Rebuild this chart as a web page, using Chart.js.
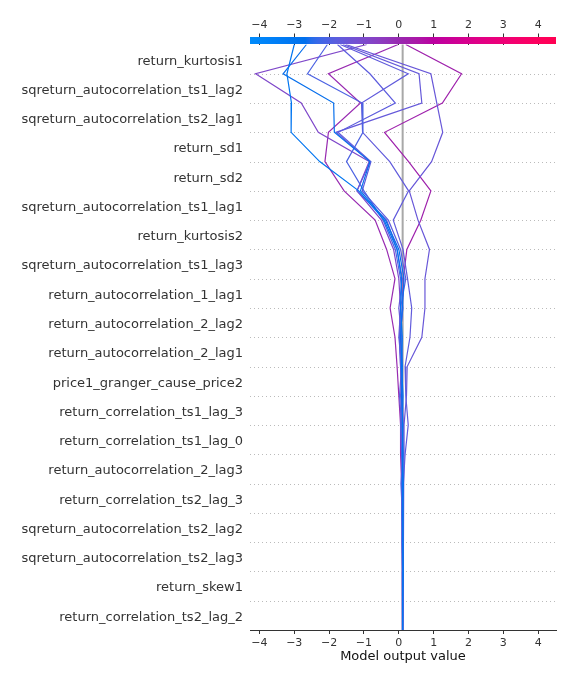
<!DOCTYPE html>
<html>
<head>
<meta charset="utf-8">
<script src="https://cdn.jsdelivr.net/npm/chart.js@4.4.1/dist/chart.umd.min.js"></script>
<style>
html,body{margin:0;padding:0;background:#fff;}
#wrap{width:576px;height:684px;position:relative;}
</style>
</head>
<body>
<div id="wrap"><canvas id="c" width="576" height="684"></canvas></div>
<script>
// Feature names, top to bottom
const features = [
  "return_kurtosis1",
  "sqreturn_autocorrelation_ts1_lag2",
  "sqreturn_autocorrelation_ts2_lag1",
  "return_sd1",
  "return_sd2",
  "sqreturn_autocorrelation_ts1_lag1",
  "return_kurtosis2",
  "sqreturn_autocorrelation_ts1_lag3",
  "return_autocorrelation_1_lag1",
  "return_autocorrelation_2_lag2",
  "return_autocorrelation_2_lag1",
  "price1_granger_cause_price2",
  "return_correlation_ts1_lag_3",
  "return_correlation_ts1_lag_0",
  "return_autocorrelation_2_lag3",
  "return_correlation_ts2_lag_3",
  "sqreturn_autocorrelation_ts2_lag2",
  "sqreturn_autocorrelation_ts2_lag3",
  "return_skew1",
  "return_correlation_ts2_lag_2"
];
const xTicks = [-4, -3, -2, -1, 0, 1, 2, 3, 4];
const baseValue = 0.11;
const xMin = -4.27, xMax = 4.51;

// Cumulative model output per observation, listed from the top of the plot
// (final output) down to the bottom (base value).
const obs1  = [-3.00, -3.21, -3.08, -3.09, -2.27, -1.15, -0.42, -0.05, 0.08, 0.05, 0.10, 0.08, 0.12, 0.10, 0.12, 0.10, 0.12, 0.11, 0.12, 0.11, 0.11];
const obs2  = [-2.65, -3.32, -1.87, -1.85, -0.83, -1.10, -0.38, 0.00, 0.15, 0.10, 0.05, 0.10, 0.08, 0.12, 0.10, 0.13, 0.11, 0.12, 0.12, 0.11, 0.11];
const obs3  = [-2.05, -2.62, -1.05, -1.03, -1.50, -1.00, -0.45, -0.10, 0.05, 0.12, 0.02, 0.05, 0.10, 0.05, 0.08, 0.10, 0.08, 0.10, 0.10, 0.11, 0.11];
const obs4  = [-1.76, -0.83, -0.10, -1.74, -0.80, -1.05, -0.30, 0.05, 0.20, 0.05, 0.00, 0.08, 0.02, 0.08, 0.12, 0.06, 0.10, 0.09, 0.11, 0.10, 0.11];
const obs5  = [-1.68, 0.27, -1.07, -1.04, -0.26, 0.28, -0.16, 0.12, 0.25, 0.37, 0.32, 0.18, 0.20, 0.27, 0.18, 0.13, 0.14, 0.13, 0.12, 0.12, 0.11];
const obs6  = [-1.60, 0.58, 0.66, -1.80, -0.82, -1.20, -0.35, -0.05, 0.10, 0.00, 0.08, 0.10, 0.05, 0.10, 0.12, 0.08, 0.12, 0.10, 0.12, 0.11, 0.11];
const obs7  = [-1.52, 0.92, 1.09, 1.26, 0.94, 0.30, 0.55, 0.88, 0.75, 0.75, 0.66, 0.24, 0.22, 0.15, 0.15, 0.14, 0.13, 0.13, 0.12, 0.12, 0.11];
const obs8  = [-0.92, -4.11, -2.80, -2.31, -0.85, -1.20, -0.50, -0.15, 0.00, 0.05, 0.02, 0.05, 0.08, 0.06, 0.10, 0.08, 0.10, 0.10, 0.10, 0.11, 0.11];
const obs9  = [-0.02, -2.02, -1.10, -2.02, -2.12, -1.57, -0.68, -0.35, -0.11, -0.25, -0.11, -0.05, 0.00, 0.05, 0.05, 0.08, 0.10, 0.10, 0.10, 0.11, 0.11];
const obs10 = [0.20, 1.80, 1.25, -0.41, 0.28, 0.92, 0.63, 0.23, 0.13, 0.10, 0.05, 0.08, 0.10, 0.12, 0.10, 0.10, 0.12, 0.11, 0.11, 0.11, 0.11];
const observations = [obs1, obs2, obs3, obs4, obs5, obs6, obs7, obs8, obs9, obs10];

// SHAP red_blue colormap (LCH interpolation)
function redBlue(t) {
  t = Math.max(0, Math.min(1, t));
  const L = t < 0.5 ? 54 + (40 - 54) * (t / 0.5) : 40 + (54 - 40) * ((t - 0.5) / 0.5);
  const C = 70 + 20 * t;
  const H = 4.6588 + (0.35470565 + 2 * Math.PI - 4.6588) * t;
  const a = C * Math.cos(H), b = C * Math.sin(H);
  const fy = (L + 16) / 116, fx = fy + a / 500, fz = fy - b / 200;
  const finv = v => { const v3 = v * v * v; return v3 > 0.008856 ? v3 : (v - 16 / 116) / 7.787; };
  const X = 0.95047 * finv(fx), Y = finv(fy), Z = 1.08883 * finv(fz);
  let r = 3.2406 * X - 1.5372 * Y - 0.4986 * Z;
  let g = -0.9689 * X + 1.8758 * Y + 0.0415 * Z;
  let bb = 0.0557 * X - 0.2040 * Y + 1.0570 * Z;
  const gam = c => { c = c <= 0.0031308 ? 12.92 * c : 1.055 * Math.pow(c, 1 / 2.4) - 0.055; return Math.round(Math.max(0, Math.min(1, c)) * 255); };
  return `rgb(${gam(r)},${gam(g)},${gam(bb)})`;
}
const nLevels = features.length;
const fmt = v => (v < 0 ? "\u2212" + Math.abs(v) : String(v));

const datasets = observations.map(s => ({
  data: s.map((v, k) => ({ x: v, y: nLevels - k })),
  borderColor: redBlue((s[0] - xMin) / (xMax - xMin)),
  borderWidth: 1.2,
  pointRadius: 0,
  fill: false,
  tension: 0
}));

const decoPlugin = {
  id: 'deco',
  beforeDatasetsDraw(chart) {
    const { ctx, chartArea, scales } = chart;
    ctx.save();
    ctx.strokeStyle = '#bbbbbb';
    ctx.lineWidth = 1;
    ctx.setLineDash([1, 3]);
    for (let i = 1; i < nLevels; i++) {
      const y = Math.round(scales.y.getPixelForValue(i)) + 0.5;
      ctx.beginPath();
      ctx.moveTo(chartArea.left, y);
      ctx.lineTo(chartArea.right, y);
      ctx.stroke();
    }
    ctx.setLineDash([]);
    const bx = scales.x.getPixelForValue(baseValue);
    ctx.strokeStyle = '#a8a8a8';
    ctx.lineWidth = 2;
    ctx.beginPath();
    ctx.moveTo(bx, chartArea.top);
    ctx.lineTo(bx, chartArea.bottom);
    ctx.stroke();
    ctx.restore();
  },
  afterDraw(chart) {
    const { ctx, chartArea } = chart;
    const grad = ctx.createLinearGradient(chartArea.left, 0, chartArea.right, 0);
    for (let i = 0; i <= 50; i++) grad.addColorStop(i / 50, redBlue(i / 50));
    ctx.save();
    ctx.fillStyle = grad;
    ctx.fillRect(chartArea.left, chartArea.top - 7.5, chartArea.right - chartArea.left, 7);
    ctx.restore();
  }
};

new Chart(document.getElementById('c'), {
  type: 'line',
  data: { datasets },
  options: {
    responsive: false,
    animation: false,
    devicePixelRatio: 1,
    layout: { padding: { left: 0, right: 20, top: 0, bottom: 20 } },
    plugins: { legend: { display: false }, tooltip: { enabled: false } },
    scales: {
      x: {
        type: 'linear', position: 'bottom', min: xMin, max: xMax,
        afterBuildTicks: s => { s.ticks = xTicks.map(v => ({ value: v })); },
        ticks: { callback: v => fmt(v), font: { family: 'DejaVu Sans', size: 11 }, color: '#333333', padding: 3, maxRotation: 0, autoSkip: false },
        grid: { display: true, drawOnChartArea: false, tickLength: 4, color: '#333333' },
        border: { display: true, color: '#333333', width: 1 },
        title: { display: true, text: 'Model output value', font: { family: 'DejaVu Sans', size: 13 }, color: '#111111', padding: { top: 0, bottom: 0 } },
        afterFit: s => { s.height = 34; }
      },
      xTop: {
        type: 'linear', position: 'top', min: xMin, max: xMax,
        afterBuildTicks: s => { s.ticks = xTicks.map(v => ({ value: v })); },
        ticks: { callback: v => fmt(v), font: { family: 'DejaVu Sans', size: 11 }, color: '#333333', padding: 2, maxRotation: 0, autoSkip: false },
        grid: { display: true, drawOnChartArea: false, tickLength: 11, color: '#333333' },
        border: { display: false },
        afterFit: s => { s.height = 44.5; }
      },
      y: {
        type: 'linear', min: 0, max: nLevels,
        afterBuildTicks: s => { s.ticks = features.map((f, i) => ({ value: nLevels - 0.5 - i })); },
        ticks: { callback: v => features[Math.round(nLevels - 0.5 - v)], font: { family: 'DejaVu Sans', size: 13 }, color: '#333333', padding: 7, labelOffset: 2, autoSkip: false },
        grid: { display: false, drawTicks: false },
        border: { display: false },
        afterFit: s => { s.width = 250; }
      }
    }
  },
  plugins: [decoPlugin]
});
</script>
</body>
</html>
